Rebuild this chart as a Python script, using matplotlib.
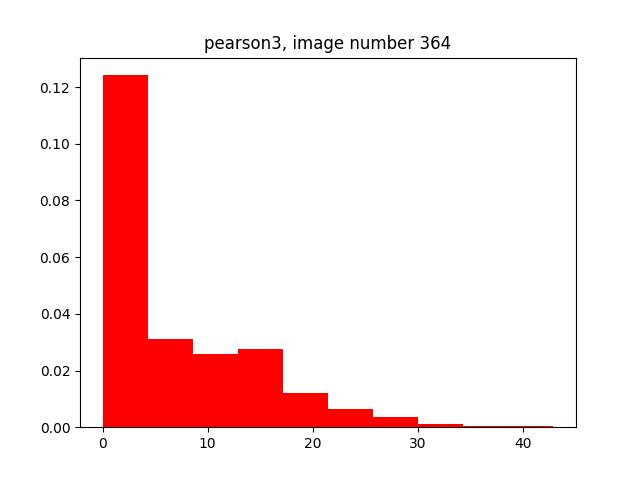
import matplotlib
matplotlib.use("Agg")
import matplotlib.pyplot as plt
import numpy as np

# bin edges and density heights
bin_edges = np.linspace(0.0, 42.9, 11)
densities = [0.1242, 0.0311, 0.0258, 0.0275, 0.0121,
             0.0064, 0.0035, 0.0011, 0.0004, 0.0004]

fig, ax = plt.subplots(figsize=(6.4, 4.8), dpi=100)
ax.hist(bin_edges[:-1], bins=bin_edges, weights=densities, color="red")
ax.set_title("pearson3, image number 364")
fig.savefig("out.png")
